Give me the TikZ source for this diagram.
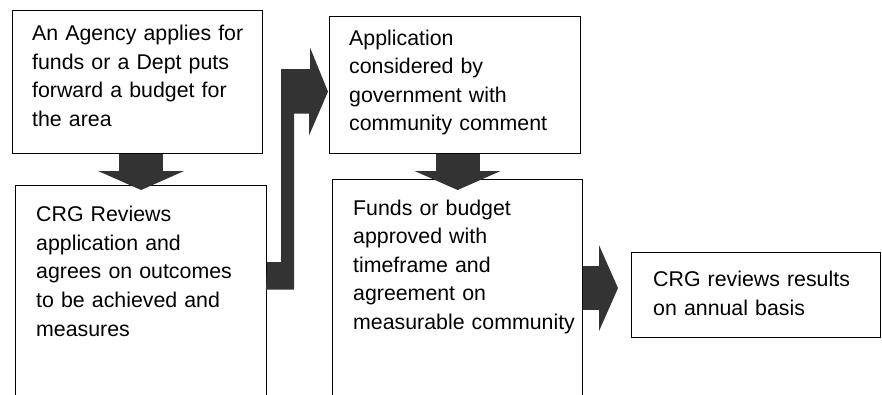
\documentclass[tikz,border=0pt]{standalone}
\usepackage{fontspec}
\setmainfont{Liberation Sans}
\usetikzlibrary{positioning,calc,arrows.meta}

\definecolor{arrowgray}{RGB}{51,51,51}

\tikzset{
  stagebox/.style={draw=black, line width=1.2pt, fill=white, anchor=north west, inner sep=0pt},
  stagetext/.style={anchor=base west, inner sep=0pt, text width=230pt, align=left,
    font=\fontsize{21.33}{28.6}\selectfont},
  blockarrow/.style={draw=arrowgray, line width=44pt,
    -{Triangle[length=19pt,width=86pt,line width=0pt]}}
}

\begin{document}
\begin{tikzpicture}[x=1pt,y=-1pt]
  \useasboundingbox (0,0) rectangle (882,394);
  \clip (0,0) rectangle (882,394);

  % Boxes
  \node[stagebox, minimum width=250pt, minimum height=143pt] (agency) at (12,10) {};
  \node[stagebox, minimum width=251pt, minimum height=260pt] (review) at (15,185) {};
  \node[stagebox, minimum width=251pt, minimum height=137pt] (apply) at (329,16) {};
  \node[stagebox, minimum width=250pt, minimum height=260pt] (funds) at (332,179) {};
  \node[stagebox, minimum width=249pt, minimum height=85pt] (annual) at (631,252) {};

  % Texts
  \node[stagetext] (agencytxt) at ($(agency.north west)+(20,30.5)$)
    {An Agency applies for\\funds or a Dept puts\\forward a budget for\\the area};
  \node[stagetext] (reviewtxt) at ($(review.north west)+(21,36.7)$)
    {CRG Reviews\\application and\\agrees on outcomes\\to be achieved and\\measures};
  \node[stagetext] (applytxt) at ($(apply.north west)+(20,29)$)
    {Application\\considered by\\government with\\community comment};
  \node[stagetext] (fundstxt) at ($(funds.north west)+(21,36)$)
    {Funds or budget\\approved with\\timeframe and\\agreement on\\measurable community};
  \node[stagetext] (annualtxt) at ($(annual.north west)+(22,34.7)$)
    {CRG reviews results\\on annual basis};

  % Down arrows
  \draw[blockarrow] (agency.south -| review.north) -- ([yshift=-5pt]review.north);
  \draw[blockarrow] (apply.south -| funds.north) -- ([yshift=-11pt]funds.north);

  % Bent arrow up to the government box
  \fill[arrowgray] ($(review.north east)+(0,77)$) -- ++(14,0) -- ++(0,-193) -- ++(29,0)
    -- ++(0,-21) -- ($(apply.west)+(-1,6.5)$) -- ++(-19,44) -- ++(0,-22) -- ++(-15,0)
    -- ++(0,176) -- ++(-28,0) -- cycle;

  % Arrow to the annual review
  \coordinate (resulttip) at ($(annual.west)+(-13,-7)$);
  \draw[blockarrow] (resulttip -| funds.east) -- (resulttip);
\end{tikzpicture}
\end{document}
